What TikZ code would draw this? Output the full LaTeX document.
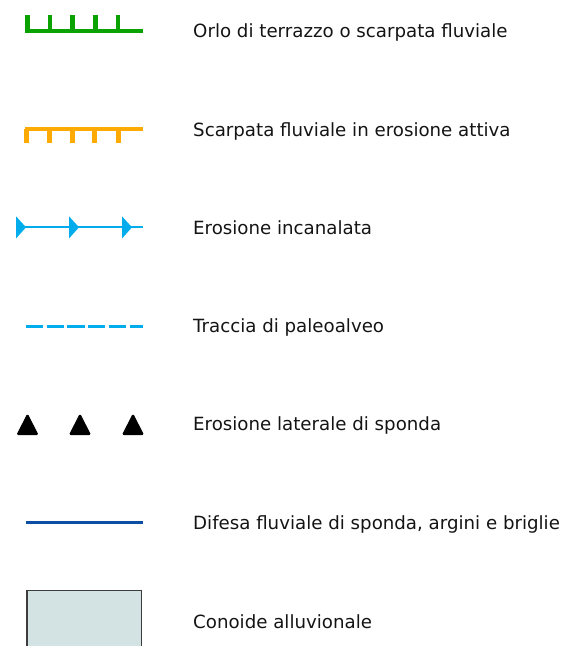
\documentclass[tikz,border=0pt]{standalone}
\usepackage{fontspec}
\setmainfont{DejaVu Sans}
\definecolor{tgreen}{RGB}{10,162,0}
\definecolor{torange}{RGB}{255,170,0}
\definecolor{tcyan}{RGB}{0,172,236}
\definecolor{tdblue}{RGB}{12,78,164}
\definecolor{tfill}{RGB}{211,226,226}
\definecolor{tedge}{RGB}{60,60,60}
\definecolor{ttext}{RGB}{20,20,20}
\tikzset{
  lab/.style={anchor=base west, inner sep=0pt, text=ttext, font=\fontsize{18.2}{20}\selectfont},
  tri/.style={fill=black, draw=black, line width=1.2pt, rounded corners=1pt, line join=round},
}
\begin{document}
\begin{tikzpicture}[x=1pt,y=-1pt]
\useasboundingbox (0,0) rectangle (572,646);
% 1 green terrace edge
\draw[tgreen, line width=4pt] (25,31) -- (143,31);
\foreach \x in {27.3,50,72.7,95.3,118} \draw[tgreen, line width=4.5pt] (\x,15) -- (\x,31);
\node[lab] (t1) at (193,37.5) {Orlo di terrazzo o scarpata fluviale};
% 2 orange active scarp
\draw[torange, line width=4pt] (25,129.3) -- (143,129.3);
\foreach \x in {26.7,49.3,72,94.7,118} \draw[torange, line width=5pt] (\x,129.3) -- (\x,142.7);
\node[lab] (t2) at (193,136) {Scarpata fluviale in erosione attiva};
% 3 channel erosion
\draw[tcyan, line width=2pt] (16,227.3) -- (142.7,227.3);
\foreach \x in {16,69,122} \fill[tcyan] (\x,216.3) -- (\x+10,227.3) -- (\x,238.5) -- cycle;
\node[lab] (t3) at (193,234.3) {Erosione incanalata};
% 4 paleochannel
\draw[tcyan, line width=3pt, dash pattern=on 17.3pt off 3.4pt] (26,326) -- (142.7,326);
\node[lab] (t4) at (193,332.6) {Traccia di paleoalveo};
% 5 lateral bank erosion
\foreach \x in {27.5,80,133} \draw[tri] (\x-10.2,434.5) -- (\x,414.6) -- (\x+10.2,434.5) -- cycle;
\node[lab] (t5) at (193,430.9) {Erosione laterale di sponda};
% 6 defence works
\draw[tdblue, line width=3.5pt] (26,522.7) -- (142.7,522.7);
\node[lab] (t6) at (193,529.3) {Difesa fluviale di sponda, argini e briglie};
% 7 alluvial fan
\draw[tedge, fill=tfill, line width=1.6pt] (27,590.5) rectangle (141.5,660);
\node[lab] (t7) at (193,628.3) {Conoide alluvionale};
\end{tikzpicture}
\end{document}
